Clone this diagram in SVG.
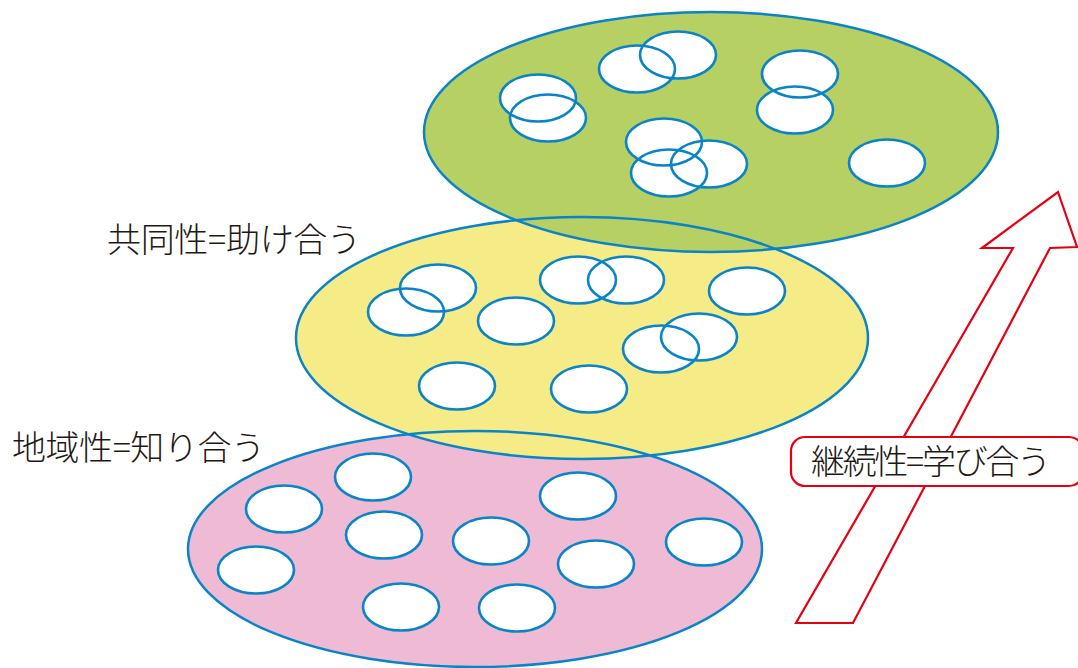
<svg xmlns="http://www.w3.org/2000/svg" width="1078" height="668" viewBox="0 0 1078 668">
<style>
.big{stroke:none}
.bigo{fill:none;stroke:#0a84c8;stroke-width:2.5}
.sf{fill:#fff;stroke:none}
.so{fill:none;stroke:#0a84c8;stroke-width:2.6}
.lbl{font-family:"Noto Sans CJK JP","Noto Sans",sans-serif;font-size:34px;font-weight:300;fill:#231815}
</style>
<rect width="1078" height="668" fill="#fff"/>
<g id="fills">
<ellipse class="big" cx="475" cy="549" rx="287" ry="118" fill="#efbad3"/>
<ellipse class="big" cx="582" cy="338" rx="286" ry="121" fill="#f6ec87"/>
<ellipse class="big" cx="711" cy="132" rx="287" ry="120" fill="#b6d063"/>
</g>
<g id="outlines">
<ellipse class="bigo" cx="475" cy="549" rx="287" ry="118"/>
<ellipse class="bigo" cx="582" cy="338" rx="286" ry="121"/>
<ellipse class="bigo" cx="711" cy="132" rx="287" ry="120"/>
</g>
<g id="green-members">
<ellipse class="sf" cx="538" cy="98" rx="38" ry="23.5"/>
<ellipse class="sf" cx="548" cy="118" rx="38" ry="23.5"/>
<ellipse class="sf" cx="637" cy="69" rx="38" ry="23.5"/>
<ellipse class="sf" cx="678" cy="55" rx="38" ry="23.5"/>
<ellipse class="sf" cx="800" cy="74" rx="38" ry="23.5"/>
<ellipse class="sf" cx="795" cy="110" rx="38" ry="23.5"/>
<ellipse class="sf" cx="664" cy="142" rx="38" ry="23.5"/>
<ellipse class="sf" cx="709" cy="164" rx="38" ry="23.5"/>
<ellipse class="sf" cx="669" cy="173" rx="38" ry="23.5"/>
<ellipse class="sf" cx="887" cy="163" rx="38" ry="23.5"/>
<ellipse class="so" cx="538" cy="98" rx="38" ry="23.5"/>
<ellipse class="so" cx="548" cy="118" rx="38" ry="23.5"/>
<ellipse class="so" cx="637" cy="69" rx="38" ry="23.5"/>
<ellipse class="so" cx="678" cy="55" rx="38" ry="23.5"/>
<ellipse class="so" cx="800" cy="74" rx="38" ry="23.5"/>
<ellipse class="so" cx="795" cy="110" rx="38" ry="23.5"/>
<ellipse class="so" cx="664" cy="142" rx="38" ry="23.5"/>
<ellipse class="so" cx="709" cy="164" rx="38" ry="23.5"/>
<ellipse class="so" cx="669" cy="173" rx="38" ry="23.5"/>
<ellipse class="so" cx="887" cy="163" rx="38" ry="23.5"/>
</g>
<g id="yellow-members">
<ellipse class="sf" cx="438" cy="288" rx="38" ry="23.5"/>
<ellipse class="sf" cx="406" cy="312" rx="38" ry="23.5"/>
<ellipse class="sf" cx="578" cy="280" rx="38" ry="23.5"/>
<ellipse class="sf" cx="626" cy="280" rx="38" ry="23.5"/>
<ellipse class="sf" cx="747" cy="291" rx="38" ry="23.5"/>
<ellipse class="sf" cx="516" cy="321" rx="38" ry="23.5"/>
<ellipse class="sf" cx="699" cy="337" rx="38" ry="23.5"/>
<ellipse class="sf" cx="661" cy="349" rx="38" ry="23.5"/>
<ellipse class="sf" cx="457" cy="386" rx="38" ry="23.5"/>
<ellipse class="sf" cx="589" cy="389" rx="38" ry="23.5"/>
<ellipse class="so" cx="438" cy="288" rx="38" ry="23.5"/>
<ellipse class="so" cx="406" cy="312" rx="38" ry="23.5"/>
<ellipse class="so" cx="578" cy="280" rx="38" ry="23.5"/>
<ellipse class="so" cx="626" cy="280" rx="38" ry="23.5"/>
<ellipse class="so" cx="747" cy="291" rx="38" ry="23.5"/>
<ellipse class="so" cx="516" cy="321" rx="38" ry="23.5"/>
<ellipse class="so" cx="699" cy="337" rx="38" ry="23.5"/>
<ellipse class="so" cx="661" cy="349" rx="38" ry="23.5"/>
<ellipse class="so" cx="457" cy="386" rx="38" ry="23.5"/>
<ellipse class="so" cx="589" cy="389" rx="38" ry="23.5"/>
</g>
<g id="pink-members">
<ellipse class="sf so" cx="373" cy="477" rx="38" ry="23.5" style="fill:#fff"/>
<ellipse class="sf so" cx="284" cy="509" rx="38" ry="23.5" style="fill:#fff"/>
<ellipse class="sf so" cx="384" cy="535" rx="38" ry="23.5" style="fill:#fff"/>
<ellipse class="sf so" cx="578" cy="496" rx="38" ry="23.5" style="fill:#fff"/>
<ellipse class="sf so" cx="491" cy="541" rx="38" ry="23.5" style="fill:#fff"/>
<ellipse class="sf so" cx="596" cy="564" rx="38" ry="23.5" style="fill:#fff"/>
<ellipse class="sf so" cx="704" cy="542" rx="38" ry="23.5" style="fill:#fff"/>
<ellipse class="sf so" cx="256" cy="570" rx="38" ry="23.5" style="fill:#fff"/>
<ellipse class="sf so" cx="401" cy="607" rx="38" ry="23.5" style="fill:#fff"/>
<ellipse class="sf so" cx="517" cy="608" rx="38" ry="23.5" style="fill:#fff"/>
</g>
<g id="arrow">
<polygon points="1058,192 1077,247 1050,248 853,623 796,623 1013,248 982,248" fill="#fff" stroke="#e60012" stroke-width="2.2" stroke-linejoin="miter"/>
</g>
<g id="label-keizoku">
<rect x="791" y="437" width="292" height="49" rx="14" fill="#fff" stroke="#e60012" stroke-width="2.2"/>
<text class="lbl" x="811" y="474" textLength="240">継続性=学び合う</text>
</g>
<g id="label-kyodo">
<text class="lbl" x="107" y="251.5" textLength="254">共同性=助け合う</text>
</g>
<g id="label-chiiki">
<text class="lbl" x="12" y="459.5" textLength="253">地域性=知り合う</text>
</g>
</svg>
